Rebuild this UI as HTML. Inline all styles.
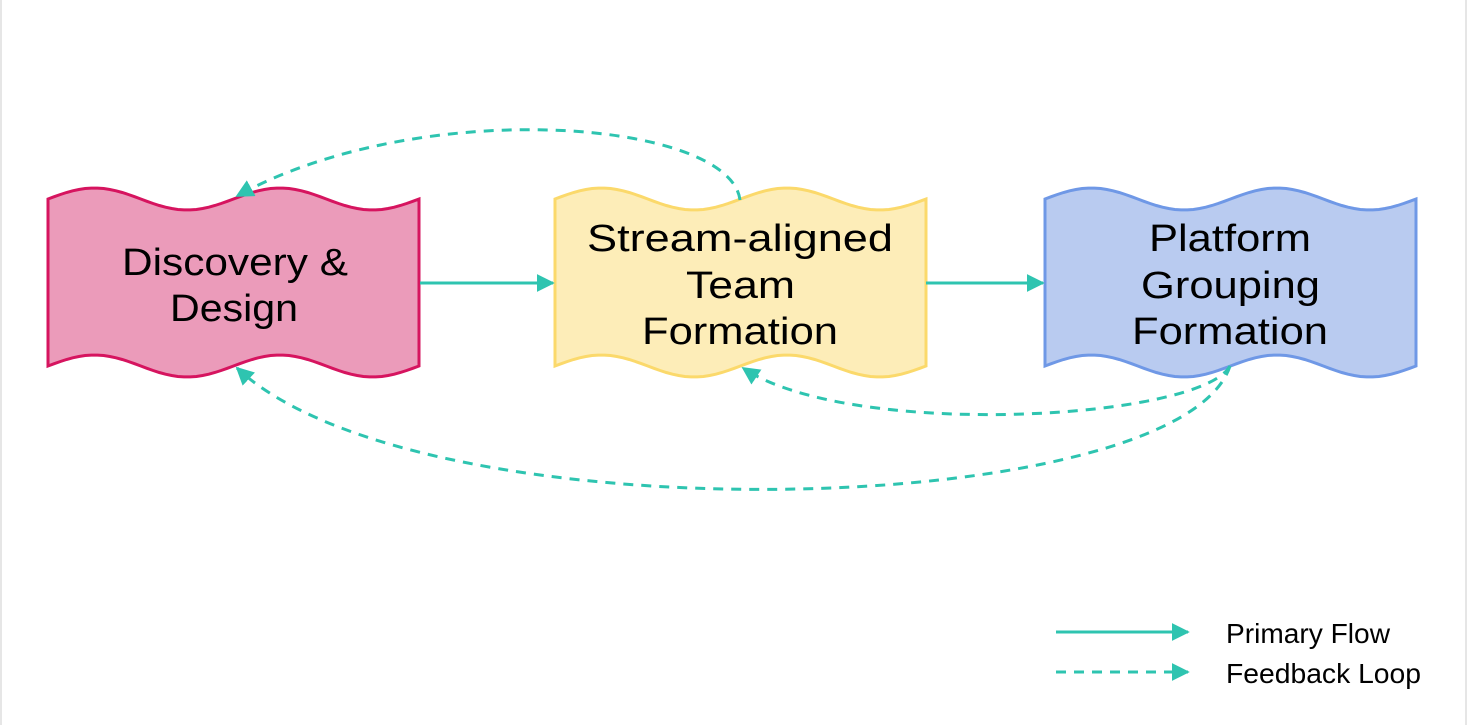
<!DOCTYPE html>
<html><head><meta charset="utf-8"><style>
html,body{margin:0;padding:0;background:#fff;}
svg{display:block}
text{font-family:"Liberation Sans",sans-serif;}
</style></head><body>
<svg id="s" width="1478" height="725" viewBox="0 0 1478 725" xmlns="http://www.w3.org/2000/svg">
<defs>
<marker id="a" viewBox="0 0 10 10" refX="9" refY="5" markerWidth="18" markerHeight="18" markerUnits="userSpaceOnUse" orient="auto"><path d="M0,0 L10,5 L0,10 z" fill="#2ec4b0"/></marker>
</defs>
<line x1="1" y1="0" x2="1" y2="725" stroke="#ccc" stroke-width="1"/>
<line x1="1466" y1="0" x2="1466" y2="725" stroke="#ccc" stroke-width="1"/>
<path id="p1" fill="#eb9bba" stroke="#d6145f" stroke-width="3"/>
<path id="p2" fill="#fdedb8" stroke="#fbd96b" stroke-width="3"/>
<path id="p3" fill="#b9cbf0" stroke="#6f98e6" stroke-width="3"/>
<g fill="none" stroke="#2ec4b0" stroke-width="3">
<line x1="420" y1="283" x2="553" y2="283" marker-end="url(#a)"/>
<line x1="926" y1="283" x2="1043" y2="283" marker-end="url(#a)"/>
<path d="M740,200 C730,120 420,95 237,196" stroke-dasharray="10,8" marker-end="url(#a)"/>
<path d="M1230,366 C1200,420 850,440 743,368" stroke-dasharray="10,8" marker-end="url(#a)"/>
<path d="M1230,366 C1180,520 420,540 237,368" stroke-dasharray="10,8" marker-end="url(#a)"/>
<line x1="1056" y1="632" x2="1188" y2="632" marker-end="url(#a)"/>
<line x1="1056" y1="672" x2="1188" y2="672" stroke-dasharray="10,8" marker-end="url(#a)"/>
</g>
<g font-size="38" fill="#000" lengthAdjust="spacingAndGlyphs">
<text x="122" y="275" textLength="226" lengthAdjust="spacingAndGlyphs">Discovery &amp;</text>
<text x="170" y="321" textLength="128" lengthAdjust="spacingAndGlyphs">Design</text>
<text x="587" y="251" textLength="306" lengthAdjust="spacingAndGlyphs">Stream-aligned</text>
<text x="686" y="298" textLength="109" lengthAdjust="spacingAndGlyphs">Team</text>
<text x="642" y="344" textLength="196" lengthAdjust="spacingAndGlyphs">Formation</text>
<text x="1149" y="251" textLength="162" lengthAdjust="spacingAndGlyphs">Platform</text>
<text x="1141" y="298" textLength="179" lengthAdjust="spacingAndGlyphs">Grouping</text>
<text x="1132" y="344" textLength="196" lengthAdjust="spacingAndGlyphs">Formation</text>
</g>
<g font-size="28" fill="#000">
<text x="1226" y="643" textLength="164" lengthAdjust="spacingAndGlyphs">Primary Flow</text>
<text x="1226" y="683" textLength="195" lengthAdjust="spacingAndGlyphs">Feedback Loop</text>
</g>
</svg>
<script>
function shape(x0){
 var w=371,T=185.5,A=11,top=199,bot=366,pts=[],i,x;
 for(i=0;i<=60;i++){x=x0+w*i/60;pts.push(x.toFixed(1)+','+(top-A*Math.sin(2*Math.PI*(x-x0)/T)).toFixed(1));}
 var d='M'+pts.join(' L');
 for(i=60;i>=0;i--){x=x0+w*i/60;d+=' L'+x.toFixed(1)+','+(bot-A*Math.sin(2*Math.PI*(x-x0)/T)).toFixed(1);}
 return d+' Z';
}
document.getElementById('p1').setAttribute('d',shape(48));
document.getElementById('p2').setAttribute('d',shape(555));
document.getElementById('p3').setAttribute('d',shape(1045));
</script>
</body></html>
